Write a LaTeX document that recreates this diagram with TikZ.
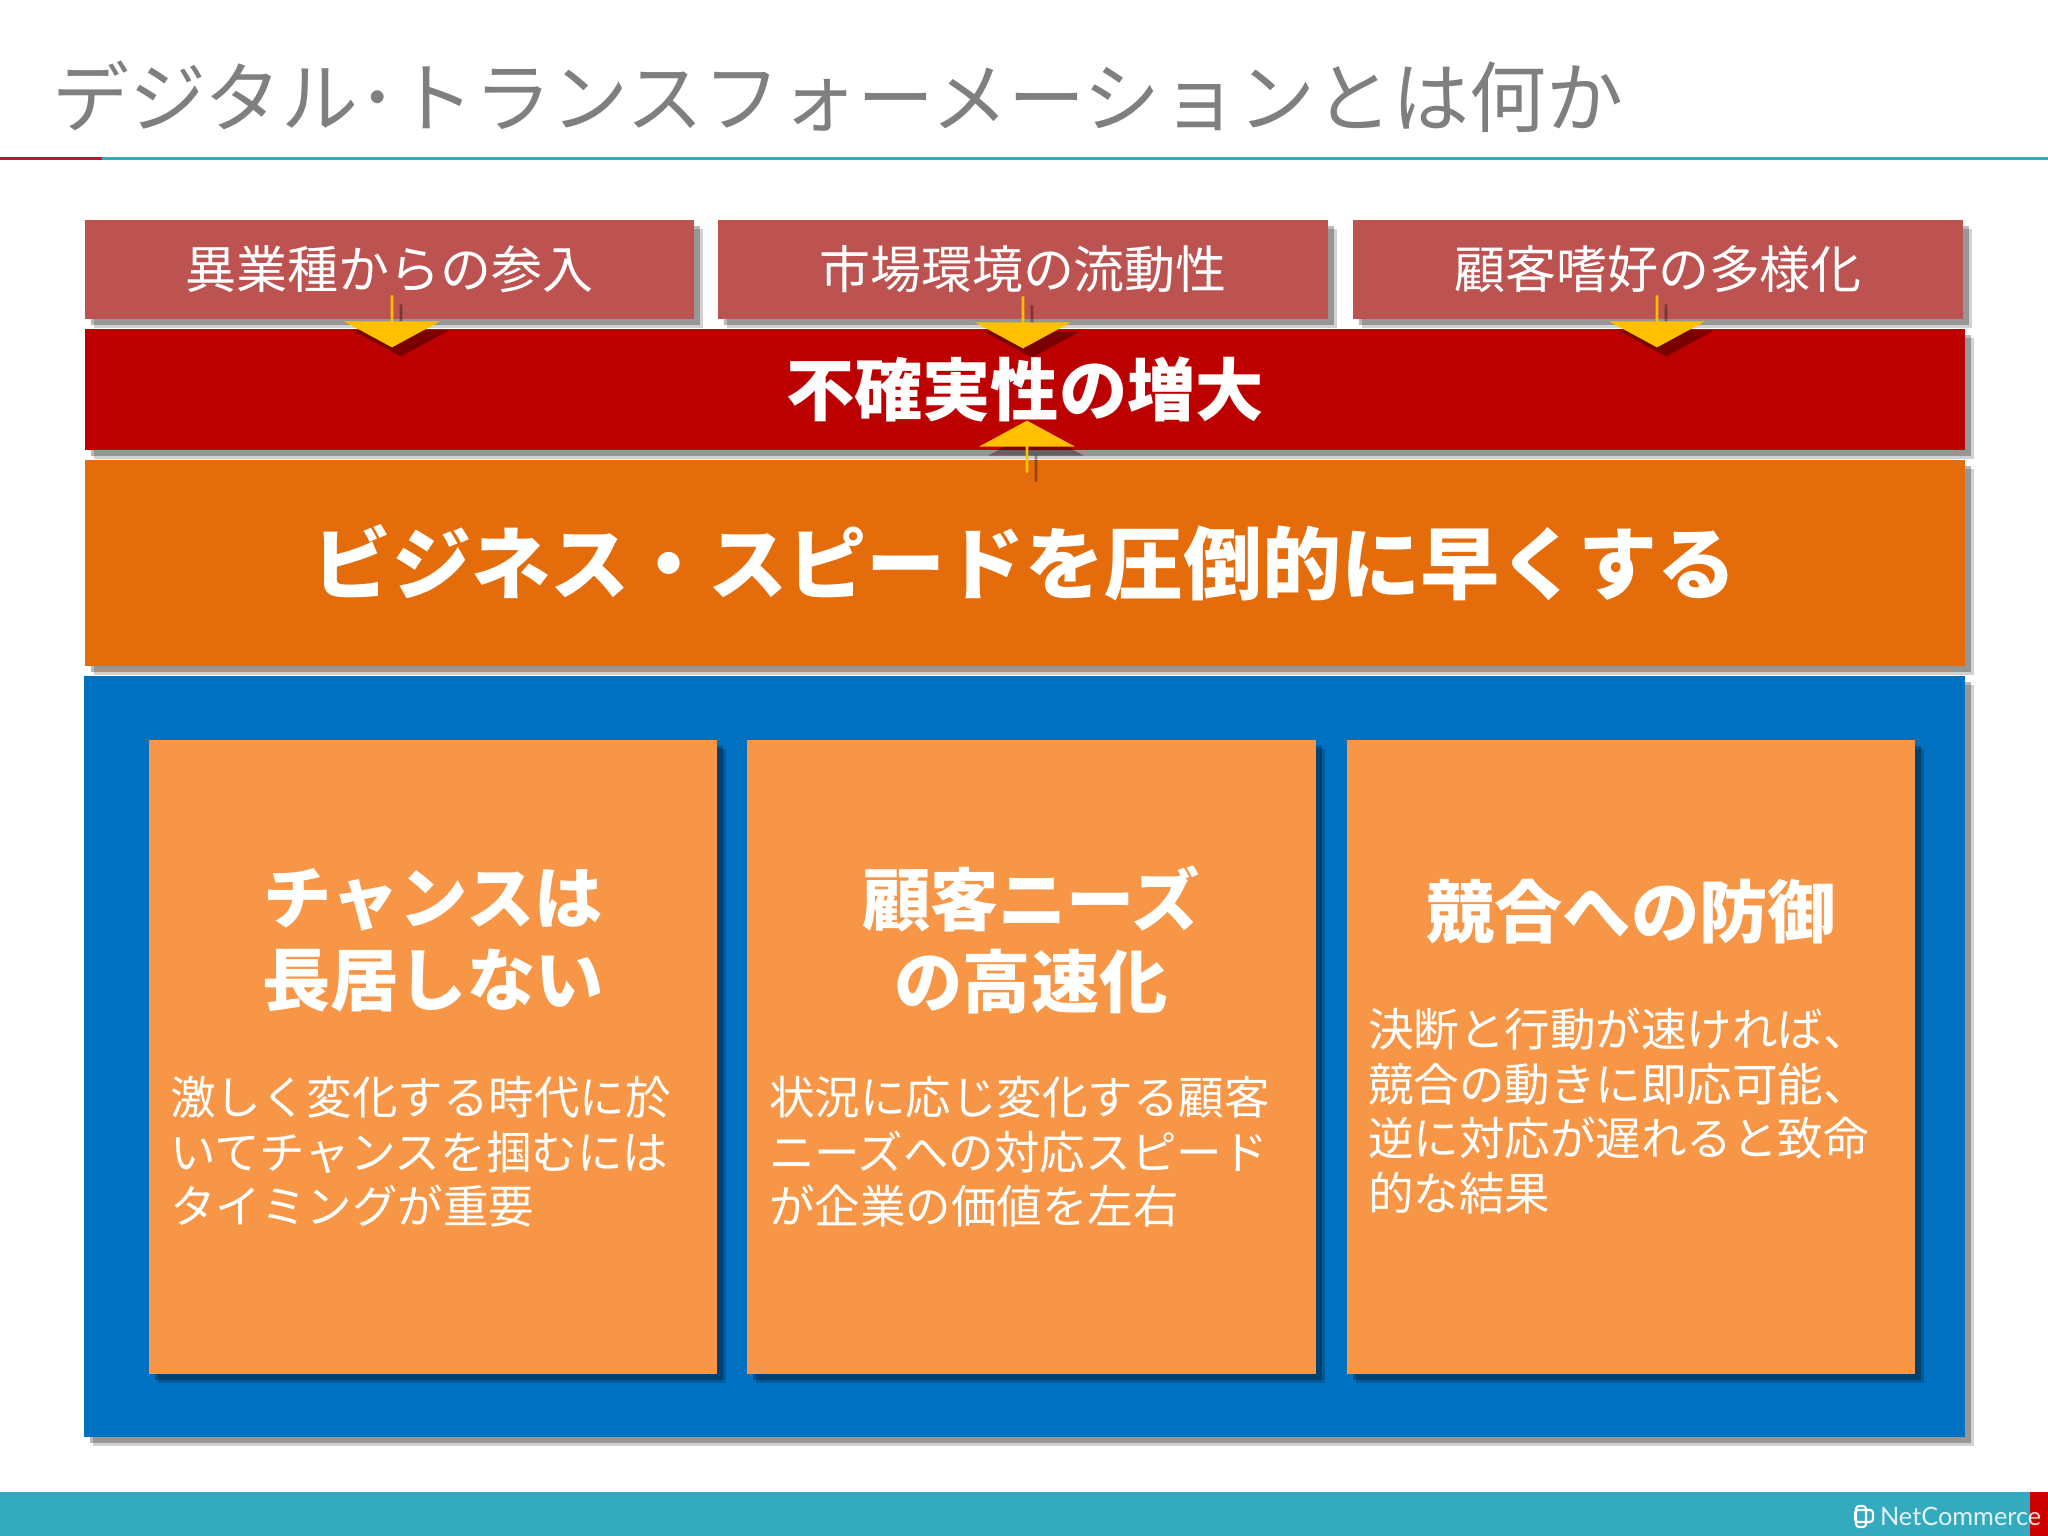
\documentclass[tikz,border=0pt]{standalone}
\usepackage{fontspec}
\usepackage{xcolor}
\usetikzlibrary{shadows,shapes.arrows}
\setmainfont{Noto Sans CJK JP}
\setsansfont{Lato}
\definecolor{titlegray}{HTML}{7F7F7F}
\definecolor{teal}{HTML}{34AABF}
\definecolor{redline}{HTML}{C8102E}
\definecolor{footred}{HTML}{CC0000}
\definecolor{causered}{HTML}{BD5350}
\definecolor{bandred}{HTML}{BC0000}
\definecolor{speedorange}{HTML}{E46C0A}
\definecolor{frameblue}{HTML}{0070C0}
\definecolor{cardorange}{HTML}{F79646}
\definecolor{arrowgold}{HTML}{FFC000}
\tikzset{
  softshadow/.style={drop shadow={shadow xshift=0.09cm,shadow yshift=-0.09cm,opacity=0.18,fill=black},
    drop shadow={shadow xshift=0.06cm,shadow yshift=-0.06cm,opacity=0.28,fill=black}},
  causebox/.style={rectangle,fill=causered,softshadow,minimum width=6.09cm,minimum height=0.99cm,text=white,font=\fontsize{14.5pt}{17pt}\selectfont},
  cardbox/.style={rectangle,fill=cardorange,softshadow,minimum width=5.68cm,minimum height=6.34cm},
  cardhead/.style={text=white,align=center,font=\fontsize{19.4pt}{23.3pt}\selectfont\bfseries},
  cardtext/.style={text=white,align=left,anchor=north west,font=\fontsize{12.95pt}{15.55pt}\selectfont},
  downarrow/.style={single arrow,shape border rotate=270,fill=arrowgold,minimum width=0.96cm,minimum height=0.52cm,
    single arrow head extend=0.23cm,single arrow tip angle=123,single arrow head indent=0pt,
    drop shadow={shadow xshift=0.09cm,shadow yshift=-0.09cm,opacity=0.35,fill=black}},
  uparrow/.style={downarrow,shape border rotate=90}
}
\begin{document}
\begin{tikzpicture}[x=0.01cm,y=0.01cm]
\tikzstyle{every node}+=[inner sep=0pt,outer sep=0pt]
\useasboundingbox (0,0) rectangle (2048,-1536);
\fill [white] (0,0) rectangle (2048,-1536);
\node (title) at (52,-97) [anchor=west,text=titlegray,font=\fontsize{21.9pt}{26pt}\selectfont] {デジタル･トランスフォーメーションとは何か};
\fill [teal] (102,-156.5) rectangle (2048,-159.5);
\fill [redline] (0,-156.5) rectangle (102,-159.5);
\fill [teal] (0,-1492) rectangle (2048,-1536);
\fill [footred] (2030,-1492) rectangle (2048,-1536);
\node (causeA) at (389.5,-269.5) [causebox] {異業種からの参入};
\node (causeB) at (1023,-269.5) [causebox] {市場環境の流動性};
\node (causeC) at (1658,-269.5) [causebox] {顧客嗜好の多様化};
\node (band) at (1025,-389.5) [rectangle,fill=bandred,softshadow,minimum width=18.79cm,minimum height=1.21cm,text=white,font=\fontsize{19.4pt}{23pt}\selectfont\bfseries] {不確実性の増大};
\node (speed) at (1025,-563) [rectangle,fill=speedorange,softshadow,minimum width=18.79cm,minimum height=2.06cm,text=white,font=\fontsize{22.5pt}{27pt}\selectfont\bfseries] {ビジネス・スピードを圧倒的に早くする};
\node (arrowA) at (392,-321) [downarrow] {};
\node (arrowB) at (1023,-322) [downarrow] {};
\node (arrowC) at (1657,-321) [downarrow] {};
\node (arrowD) at (1027,-447) [uparrow] {};
\node (frame) at (1024.5,-1056.5) [rectangle,fill=frameblue,softshadow,minimum width=18.79cm,minimum height=7.61cm] {};
\node (cardA) at (433,-1057) [cardbox] {};
\node (cardB) at (1031.5,-1057) [cardbox] {};
\node (cardC) at (1631,-1057) [cardbox] {};
\node (headA) at (433,-940) [cardhead] {チャンスは\\長居しない};
\node (headB) at (1031,-940) [cardhead] {顧客ニーズ\\の高速化};
\node (headC) at (1631,-912) [cardhead] {競合への防御};
\node (textA) at (170,-1076) [cardtext] {激しく変化する時代に於\\いてチャンスを掴むには\\タイミングが重要};
\node (textB) at (769,-1076) [cardtext] {状況に応じ変化する顧客\\ニーズへの対応スピード\\が企業の価値を左右};
\node (textC) at (1368,-1008) [cardtext] {決断と行動が速ければ、\\競合の動きに即応可能、\\逆に対応が遅れると致命\\的な結果};
\node (logo) at (1880,-1516) [anchor=west,text=white,opacity=0.85,font=\fontsize{7.2pt}{9pt}\sffamily] {NetCommerce};
\draw [white,line width=0.6pt,rounded corners=0.03cm] (1855,-1510) rectangle (1873,-1522);
\draw [white,line width=0.6pt,rounded corners=0.03cm] (1856,-1506) rectangle (1866,-1527);
\end{tikzpicture}
\end{document}
